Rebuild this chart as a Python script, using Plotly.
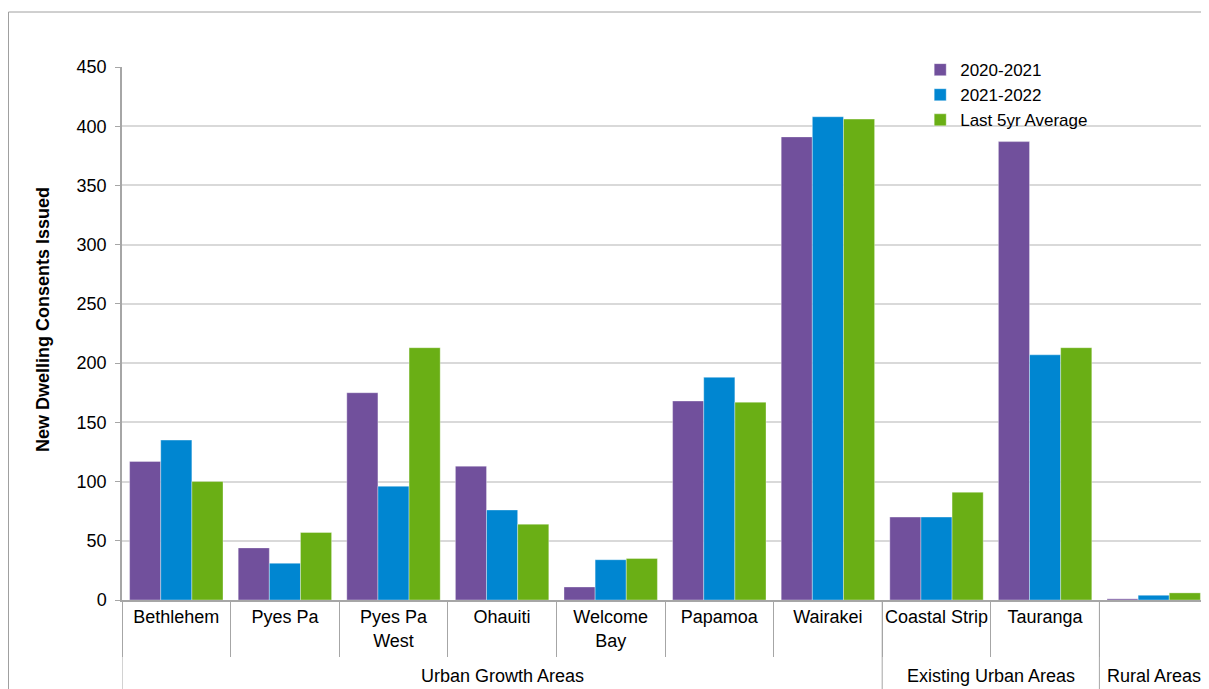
import plotly.graph_objects as go

areas = ["Bethlehem", "Pyes Pa", "Pyes Pa<br>West", "Ohauiti", "Welcome<br>Bay",
         "Papamoa", "Wairakei", "Coastal Strip", "Tauranga", " "]
group_names = ["Urban Growth Areas", "Existing Urban Areas", "Rural Areas"]
group_sizes = [7, 2, 1]

y2021 = [117, 44, 175, 113, 11, 168, 391, 70, 387, 1]
y2022 = [135, 31, 96, 76, 34, 188, 408, 70, 207, 4]
avg5 = [100, 57, 213, 64, 35, 167, 406, 91, 213, 6]

series = [
    ("2020-2021", y2021, "#71509C"),
    ("2021-2022", y2022, "#0086D1"),
    ("Last 5yr Average", avg5, "#6AAF15"),
]

fig = go.Figure()
for name, vals, col in series:
    fig.add_trace(go.Bar(
        x=areas, y=vals, name=name,
        marker=dict(color=col, line=dict(color="rgba(255,255,255,0.35)", width=1)),
    ))

# the page body adds an 8px margin, so the figure is 8px smaller than the window
W, H = 1201, 681
L, R, T, B = 114, 1, 59, 89
pw, ph = W - L - R, H - T - B

fig.update_layout(
    width=W, height=H,
    margin=dict(l=L, r=R, t=T, b=B, autoexpand=False),
    paper_bgcolor="white", plot_bgcolor="white",
    barmode="group", bargap=0.14, bargroupgap=0,
    font=dict(family="Liberation Sans, Arial, sans-serif", size=18, color="#000000"),
    legend=dict(x=0.735, y=1.028, xanchor="left", yanchor="top",
                bgcolor="rgba(0,0,0,0)", font=dict(size=17),
                tracegroupgap=0, itemwidth=30),
    showlegend=True,
)
fig.update_yaxes(
    range=[0, 450], dtick=50, showgrid=True, gridcolor="#D9D9D9", gridwidth=1.5,
    showline=True, linecolor="#A6A6A6", linewidth=1.5,
    ticks="outside", ticklen=5, tickcolor="#A6A6A6",
    tickfont=dict(size=18), ticklabelstandoff=5,
    zeroline=False, automargin=False,
)
fig.update_xaxes(
    type="category", tickson="boundaries", tickangle=0,
    showline=True, linecolor="#A6A6A6", linewidth=1.5,
    ticks="outside", ticklen=55, tickcolor="#A6A6A6", tickwidth=1,
    tickfont=dict(size=18), range=[-0.5, len(areas) - 0.5], automargin=False,
)

# y-axis title
fig.add_annotation(x=(35 - L) / pw, xref="paper", y=(H - B - 312) / ph, yref="paper",
                   text="<b>New Dwelling Consents Issued</b>", textangle=-90,
                   showarrow=False, font=dict(size=18), xanchor="center", yanchor="middle")

# group dividers and group labels
ybot = -B / ph
start = 0
bounds = [-0.5]
for gname, n in zip(group_names, group_sizes):
    mid = start + (n - 1) / 2
    fig.add_annotation(x=mid, xref="x", y=-(668 - (H - B)) / ph, yref="paper",
                       text=gname, showarrow=False, font=dict(size=18),
                       yanchor="middle", xanchor="center")
    start += n
    bounds.append(start - 0.5)
for b in bounds:
    fig.add_shape(type="line", xref="x", yref="paper", x0=b, x1=b, y0=0, y1=ybot - 0.05,
                  line=dict(color="#A6A6A6", width=1))

# outer frame of the chart area
x0 = (0.5 - L) / pw
ytop = (H - B - 4) / ph
fig.add_shape(type="line", xref="paper", yref="paper", x0=x0, x1=1.05, y0=ytop, y1=ytop,
              line=dict(color="#A0A0A0", width=1))
fig.add_shape(type="line", xref="paper", yref="paper", x0=x0, x1=x0, y0=ytop, y1=-0.3,
              line=dict(color="#A0A0A0", width=1))

fig.write_html("out.html")
